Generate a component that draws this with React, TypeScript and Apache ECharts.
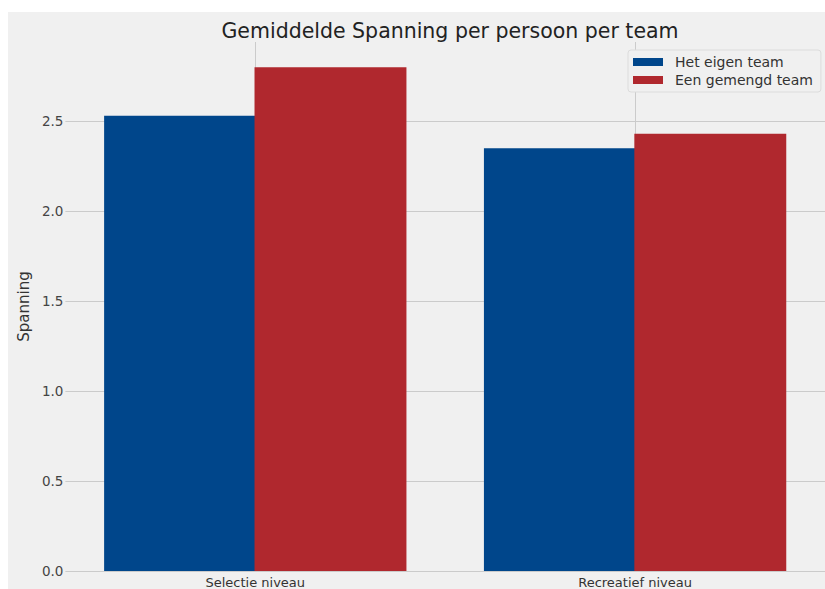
import React, { useEffect, useRef } from "react";
import * as echarts from "echarts";

const categories = ["Selectie niveau", "Recreatief niveau"];
const seriesNames = ["Het eigen team", "Een gemengd team"];
const eigenTeam = [2.53, 2.35];
const gemengdTeam = [2.8, 2.43];
const yTicks = [0, 0.5, 1.0, 1.5, 2.0, 2.5];

export default function App() {
  const ref = useRef<HTMLDivElement>(null);
  useEffect(() => {
    if (!ref.current) return;
    const chart = echarts.init(ref.current, null, { renderer: "svg" });
    const font = "DejaVu Sans";
    const gridColors = yTicks.map(() => "#cbcbcb").concat(["rgba(0,0,0,0)"]);
    const blue = "#00468b";
    const red = "#b0282e";
    chart.setOption({
      animation: false,
      backgroundColor: "#f0f0f0",
      textStyle: { fontFamily: font },
      title: {
        text: "Gemiddelde Spanning per persoon per team",
        left: 437,
        textAlign: "center",
        top: 3,
        textStyle: { fontFamily: font, fontSize: 20.5, fontWeight: "normal", color: "#222" },
      },
      legend: {
        orient: "vertical",
        left: 620,
        top: 38,
        padding: [5, 8, 5, 5],
        itemWidth: 30,
        itemHeight: 8,
        itemGap: 4,
        icon: "rect",
        backgroundColor: "#f0f0f0",
        borderColor: "#dcdcdc",
        borderWidth: 1,
        borderRadius: 3,
        textStyle: { fontFamily: font, fontSize: 14, color: "#333", padding: [0, 0, 0, 7] },
        data: seriesNames,
      },
      grid: { left: 51, right: -6, top: 30, bottom: 15, containLabel: false },
      xAxis: [
        {
          type: "category",
          data: categories,
          axisLine: { show: false },
          axisTick: { show: false },
          splitLine: { show: false },
          axisLabel: { fontFamily: font, fontSize: 13, color: "#333", margin: 5 },
        },
        {
          type: "value",
          position: "bottom",
          min: -0.5,
          max: 1.5,
          interval: 0.5,
          axisLine: { show: false },
          axisTick: { show: false },
          axisLabel: { show: false },
          splitLine: {
            show: true,
            lineStyle: { color: ["rgba(0,0,0,0)", "#cbcbcb"], width: 1 },
          },
        },
      ],
      yAxis: {
        type: "value",
        min: 0,
        max: 2.94,
        interval: 0.5,
        name: "Spanning",
        nameLocation: "middle",
        nameGap: 34,
        nameTextStyle: { fontFamily: font, fontSize: 15, color: "#333" },
        axisLine: { show: false },
        axisTick: { show: false },
        axisLabel: {
          fontFamily: font,
          fontSize: 13.5,
          color: "#444",
          margin: 2,
          showMaxLabel: false,
          formatter: (v: number) => v.toFixed(1),
        },
        splitLine: { show: true, lineStyle: { color: gridColors, width: 1 } },
      },
      series: [
        {
          type: "bar",
          name: seriesNames[0],
          data: eigenTeam,
          xAxisIndex: 0,
          barWidth: "40%",
          barGap: "-1%",
          itemStyle: { color: blue, borderWidth: 0 },
          z: 10,
        },
        {
          type: "bar",
          name: seriesNames[1],
          data: gemengdTeam,
          xAxisIndex: 0,
          barWidth: "40%",
          barGap: "-1%",
          itemStyle: { color: red, borderWidth: 0 },
          z: 10,
        },
      ],
    });
    return () => chart.dispose();
  }, []);
  return (
    <div
      ref={ref}
      style={{ position: "fixed", left: 8, top: 12, width: 817, height: 577 }}
    />
  );
}
